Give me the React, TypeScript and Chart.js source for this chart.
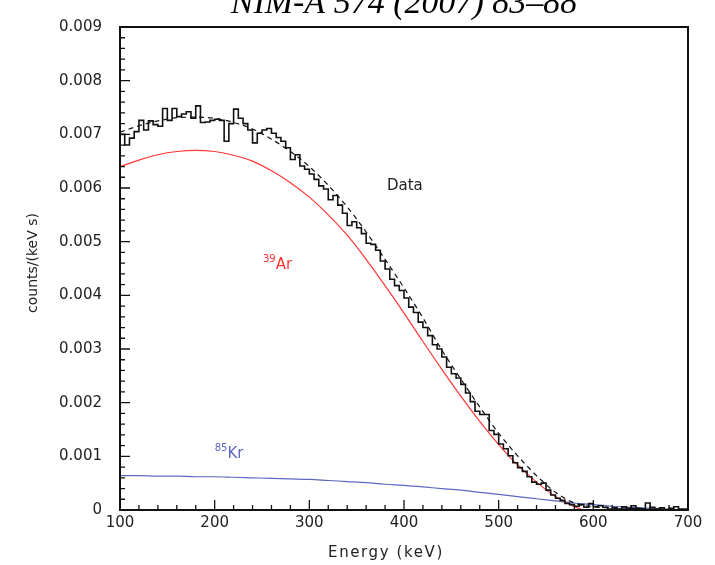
import React, { useEffect, useRef } from "react";
import { Chart, registerables } from "chart.js";

Chart.register(...registerables);

// ---------- text ----------
const TITLE = "NIM-A 574 (2007) 83\u201388";
const X_TITLE = "Energy (keV)";
const Y_TITLE = "counts/(keV s)";

// ---------- axes ----------
const X_TICKS = [100, 200, 300, 400, 500, 600, 700];
const Y_TICKS = [0, 0.001, 0.002, 0.003, 0.004, 0.005, 0.006, 0.007, 0.008, 0.009];
const X_MINOR_DIV = 5;
const Y_MINOR_DIV = 5;

// ---------- measured histogram (5 keV bins from 100 keV) ----------
const BIN_START = 100;
const BIN_WIDTH = 5;
const DATA_COUNTS = [
  0.0072, 0.007, 0.0068, 0.00693, 0.00705, 0.00726, 0.00708, 0.00725, 0.00718, 0.00715,
  0.00748, 0.00726, 0.00748, 0.00733, 0.00738, 0.00742, 0.0073, 0.00753, 0.00722, 0.00723,
  0.00726, 0.00728, 0.00726, 0.00687, 0.0072, 0.00747, 0.0073, 0.0072, 0.00708, 0.00684,
  0.00702, 0.00708, 0.00711, 0.00702, 0.00694, 0.00687, 0.00675, 0.00653, 0.00662, 0.00641,
  0.00635, 0.00626, 0.00616, 0.00604, 0.00598, 0.00578, 0.00586, 0.00568, 0.00553, 0.0053,
  0.00537, 0.00526, 0.00515, 0.00497, 0.00495, 0.00484, 0.00464, 0.00449, 0.0043, 0.00418,
  0.00409, 0.00395, 0.00378, 0.00368, 0.0035, 0.0034, 0.00325, 0.00308, 0.003, 0.00285,
  0.00266, 0.00254, 0.00246, 0.00234, 0.00218, 0.00202, 0.00184, 0.00178, 0.00178, 0.00148,
  0.00141, 0.00123, 0.00114, 0.00101, 0.00088, 0.00079, 0.00072, 0.00062, 0.00052, 0.00048,
  0.0005, 0.00037, 0.00028, 0.00022, 0.00018, 0.00012, 0.0001, 0.00007, 0.0001, 0.00005,
  0.00012, 0.00006, 0.00008, 0.00005, 0.00002, 0.00004, 0.00002, 0.00006, 0.00003, 0.00008,
  0.00003, 0.00002, 0.00013, 0.00005, 0.00002, 0.00004, 0.00001, 0.00003, 0.00006, 0.00002,
];

// ---------- fitted curves ----------
const CURVE_E = [
  100, 120, 140, 160, 180, 200, 220, 240, 260, 280, 300, 320, 340, 360, 380, 400,
  420, 440, 460, 480, 500, 520, 540, 560, 580, 600, 620, 640, 660, 680, 700,
];
const FIT_VALUES = [
  0.00704, 0.00716, 0.00725, 0.00731, 0.00732, 0.0073, 0.00722, 0.0071, 0.00691, 0.00668,
  0.0064, 0.00605, 0.00565, 0.00518, 0.00467, 0.00414, 0.00358, 0.00298, 0.00244, 0.00192,
  0.00143, 0.00101, 0.00064, 0.00033, 0.00013, 0.00006, 0.00004, 0.00003, 0.00002, 0.00001, 0,
];
const KR_VALUES = [
  0.00064, 0.00064, 0.00063, 0.00063, 0.00062, 0.00062, 0.00061, 0.0006, 0.00059, 0.00058,
  0.00057, 0.00055, 0.00053, 0.00051, 0.00048, 0.00046, 0.00043, 0.0004, 0.00037, 0.00033,
  0.00029, 0.00025, 0.00021, 0.00017, 0.00013, 0.0001, 0.00007, 0.00005, 0.00003, 0.00001, 0,
];
const AR_E = [
  100, 120, 140, 160, 180, 200, 220, 240, 260, 280, 300, 320, 340, 360, 380, 400,
  420, 440, 460, 480, 500, 520, 540, 560, 580, 590,
];
const AR_VALUES = [
  0.0064, 0.00652, 0.00662, 0.00668, 0.0067, 0.00668, 0.00661, 0.0065, 0.00632, 0.0061,
  0.00583, 0.0055, 0.00512, 0.00467, 0.00418, 0.00367, 0.00314, 0.00262, 0.00212, 0.00165,
  0.00122, 0.00084, 0.00052, 0.00025, 0.00006, 0,
];

// ---------- in-plot labels (data coordinates) ----------
const LABELS = [
  { sup: "", text: "Data", e: 382, v: 0.00596, color: "#222222" },
  { sup: "39", text: "Ar", e: 251, v: 0.00449, color: "#ff3535" },
  { sup: "85", text: "Kr", e: 200, v: 0.00097, color: "#5a68c0" },
];

const FONT = "'DejaVu Sans', 'Noto Sans', sans-serif";

export default function App() {
  const ref = useRef<HTMLCanvasElement | null>(null);

  useEffect(() => {
    const canvas = ref.current;
    if (!canvas) return;

    const histPoints = DATA_COUNTS.map((v, i) => ({ x: BIN_START + i * BIN_WIDTH, y: v }));
    histPoints.push({ x: BIN_START + DATA_COUNTS.length * BIN_WIDTH, y: DATA_COUNTS[DATA_COUNTS.length - 1] });

    const decorPlugin = {
      id: "decor",
      afterDatasetsDraw(chart: any) {
        const { ctx, chartArea: a, scales } = chart;
        const xs = scales.x;
        const ys = scales.y;
        ctx.save();
        ctx.strokeStyle = "#111";
        ctx.lineWidth = 1.3;
        ctx.beginPath();
        for (let i = 0; i < X_TICKS.length; i++) {
          const px = xs.getPixelForValue(X_TICKS[i]);
          ctx.moveTo(px, a.bottom);
          ctx.lineTo(px, a.bottom - 10);
          if (i < X_TICKS.length - 1) {
            const step = (X_TICKS[i + 1] - X_TICKS[i]) / X_MINOR_DIV;
            for (let k = 1; k < X_MINOR_DIV; k++) {
              const mx = xs.getPixelForValue(X_TICKS[i] + k * step);
              ctx.moveTo(mx, a.bottom);
              ctx.lineTo(mx, a.bottom - 5);
            }
          }
        }
        for (let i = 0; i < Y_TICKS.length; i++) {
          const py = ys.getPixelForValue(Y_TICKS[i]);
          ctx.moveTo(a.left, py);
          ctx.lineTo(a.left + 10, py);
          if (i < Y_TICKS.length - 1) {
            const step = (Y_TICKS[i + 1] - Y_TICKS[i]) / Y_MINOR_DIV;
            for (let k = 1; k < Y_MINOR_DIV; k++) {
              const my = ys.getPixelForValue(Y_TICKS[i] + k * step);
              ctx.moveTo(a.left, my);
              ctx.lineTo(a.left + 5, my);
            }
          }
        }
        ctx.stroke();
        ctx.lineWidth = 2;
        ctx.strokeRect(a.left, a.top, a.right - a.left, a.bottom - a.top);

        // in-plot labels
        ctx.textBaseline = "alphabetic";
        ctx.textAlign = "left";
        for (const l of LABELS) {
          let px = xs.getPixelForValue(l.e);
          const py = ys.getPixelForValue(l.v);
          ctx.fillStyle = l.color;
          if (l.sup) {
            ctx.font = `10px ${FONT}`;
            ctx.fillText(l.sup, px, py - 7);
            px += ctx.measureText(l.sup).width;
          }
          ctx.font = `15px ${FONT}`;
          ctx.fillText(l.text, px, py);
        }

        // title
        ctx.fillStyle = "#000";
        ctx.font = "italic 34px 'Liberation Serif', 'Times New Roman', serif";
        ctx.textAlign = "center";
        ctx.fillText(TITLE, (a.left + a.right) / 2, 13);

        // axis titles
        ctx.fillStyle = "#222";
        ctx.textBaseline = "middle";
        ctx.font = `15px ${FONT}`;
        (ctx as any).letterSpacing = "1.6px";
        ctx.fillText(X_TITLE, 386, 553);
        (ctx as any).letterSpacing = "0px";
        ctx.font = `14px ${FONT}`;
        ctx.translate(33, 263);
        ctx.rotate(-Math.PI / 2);
        ctx.fillText(Y_TITLE, 0, 0);
        ctx.restore();
      },
    };

    const chart = new Chart(canvas, {
      type: "line",
      data: {
        datasets: [
          {
            label: "Data",
            data: histPoints,
            stepped: "after",
            borderColor: "#111",
            borderWidth: 1.6,
            pointRadius: 0,
            fill: false,
          },
          {
            label: "Fit",
            data: CURVE_E.map((e, i) => ({ x: e, y: FIT_VALUES[i] })),
            borderColor: "#111",
            borderWidth: 1.2,
            borderDash: [5, 4],
            pointRadius: 0,
            cubicInterpolationMode: "monotone",
            fill: false,
          },
          {
            label: "39Ar",
            data: AR_E.map((e, i) => ({ x: e, y: AR_VALUES[i] })),
            borderColor: "#ff3535",
            borderWidth: 1.2,
            pointRadius: 0,
            cubicInterpolationMode: "monotone",
            fill: false,
          },
          {
            label: "85Kr",
            data: CURVE_E.map((e, i) => ({ x: e, y: KR_VALUES[i] })),
            borderColor: "#5a68c0",
            borderWidth: 1.2,
            pointRadius: 0,
            cubicInterpolationMode: "monotone",
            fill: false,
          },
        ],
      },
      options: {
        responsive: false,
        animation: false,
        layout: { padding: { top: 19, right: 27, left: 0, bottom: 0 } },
        plugins: {
          legend: { display: false },
          title: { display: false },
          tooltip: { enabled: false },
        },
        scales: {
          x: {
            type: "linear",
            min: 100,
            max: 700,
            afterBuildTicks: (s: any) => {
              s.ticks = X_TICKS.map((v) => ({ value: v }));
            },
            afterFit: (s: any) => {
              s.height = 55;
            },
            grid: { display: false, drawTicks: false },
            border: { display: false },
            ticks: {
              padding: 4,
              maxRotation: 0,
              color: "#222",
              font: { family: FONT, size: 15 },
              callback: (v: any) => String(v),
            },
          },
          y: {
            type: "linear",
            min: 0,
            max: 0.009,
            afterBuildTicks: (s: any) => {
              s.ticks = Y_TICKS.map((v) => ({ value: v }));
            },
            afterFit: (s: any) => {
              s.width = 120;
            },
            grid: { display: false, drawTicks: false },
            border: { display: false },
            ticks: {
              padding: 18,
              color: "#222",
              font: { family: FONT, size: 15 },
              callback: (v: any) => (v === 0 ? "0" : Number(v).toFixed(3)),
            },
          },
        },
      },
      plugins: [decorPlugin],
    } as any);

    return () => chart.destroy();
  }, []);

  return (
    <div style={{ position: "fixed", left: 0, top: 0, width: 715, height: 565, background: "#fff" }}>
      <canvas ref={ref} width={715} height={565} style={{ display: "block" }} />
    </div>
  );
}
